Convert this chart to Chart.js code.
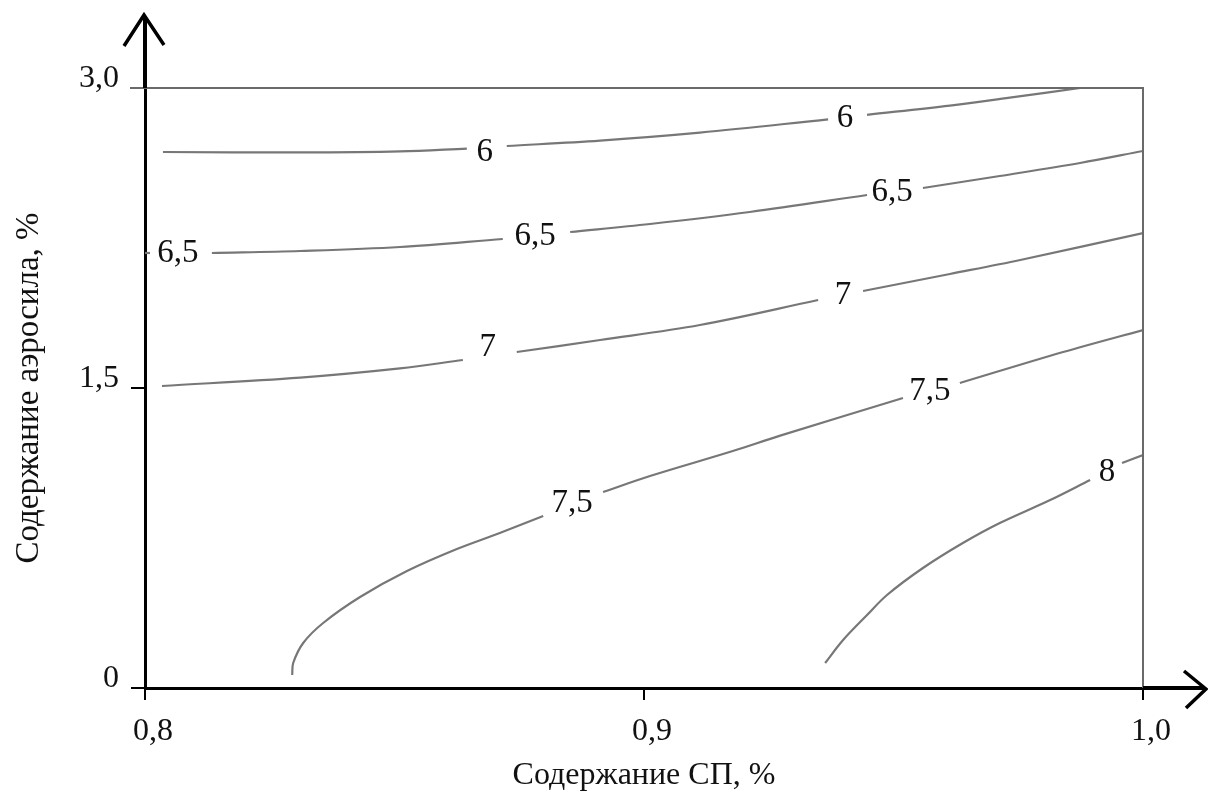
<!DOCTYPE html>
<html>
<head>
<meta charset="utf-8">
<script src="https://cdn.jsdelivr.net/npm/chart.js@4.4.1/dist/chart.umd.min.js"></script>
<style>
  html, body { margin: 0; padding: 0; background: #fff; }
  #wrap { width: 1208px; height: 797px; }
</style>
</head>
<body>
<div id="wrap"><canvas id="c" width="1208" height="797"></canvas></div>
<script>
// ---- data (x = Содержание СП, %; y = Содержание аэросила, %) ----
const xTickValues = [0.8, 0.9, 1.0];
const yTickValues = [0, 1.5, 3.0];
const xTitle = 'Содержание СП, %';
const yTitle = 'Содержание аэросила, %';

// contour level 6 (segments separated by label gaps)
const contour6 = [
  [[0.8036, 2.68], [0.8311, 2.678], [0.8511, 2.683], [0.8645, 2.697]],
  [[0.8725, 2.71], [0.8912, 2.737], [0.9112, 2.777], [0.9369, 2.843]],
  [[0.9447, 2.866], [0.9613, 2.912], [0.9733, 2.952], [0.9874, 3.0]]
];
// contour level 6,5
const contour65 = [
  [[0.8, 2.175], [0.801, 2.175]],
  [[0.8134, 2.175], [0.8311, 2.185], [0.8511, 2.205], [0.8717, 2.245]],
  [[0.8852, 2.28], [0.9012, 2.32], [0.9212, 2.38], [0.9447, 2.465]],
  [[0.9559, 2.50], [0.9713, 2.56], [0.9874, 2.625], [1.0, 2.685]]
];
// contour level 7
const contour7 = [
  [[0.8034, 1.51], [0.8311, 1.552], [0.8511, 1.598], [0.8637, 1.64]],
  [[0.8745, 1.68], [0.8912, 1.74], [0.9112, 1.815], [0.9349, 1.94]],
  [[0.9439, 1.985], [0.9613, 2.07], [0.9754, 2.14], [1.0, 2.275]]
];
// contour level 7,5
const contour75 = [
  [[0.8295, 0.065], [0.8297, 0.125], [0.8317, 0.225], [0.8357, 0.325], [0.8431, 0.455],
   [0.8525, 0.585], [0.8625, 0.695], [0.8711, 0.775], [0.8798, 0.86]],
  [[0.8918, 0.98], [0.9012, 1.06], [0.9178, 1.185], [0.9273, 1.262], [0.9519, 1.45]],
  [[0.9633, 1.525], [0.9840, 1.68], [1.0, 1.79]]
];
// contour level 8
const contour8 = [
  [[0.9363, 0.125], [0.9399, 0.24], [0.9447, 0.365], [0.9487, 0.465], [0.9559, 0.60],
   [0.9639, 0.725], [0.9713, 0.825], [0.9814, 0.94], [0.9894, 1.04]],
  [[0.9958, 1.125], [1.0, 1.165]]
];
// contour labels: text, x, y
const contourLabelText = ['6', '6', '6,5', '6,5', '6,5', '7', '7', '7,5', '7,5', '8'];
const contourLabelX = [0.8681, 0.9403, 0.8066, 0.8782, 0.9497, 0.8687, 0.9399, 0.8856, 0.9573, 0.9928];
const contourLabelY = [2.68, 2.85, 2.175, 2.26, 2.48, 1.705, 1.965, 0.925, 1.485, 1.08];

// ---- build datasets ----
const lineColor = '#777777';
const datasets = [];
[contour6, contour65, contour7, contour75, contour8].forEach(function (c) {
  c.forEach(function (seg) {
    datasets.push({
      data: seg.map(function (p) { return { x: p[0], y: p[1] }; }),
      showLine: true,
      borderColor: lineColor,
      borderWidth: 2.2,
      pointRadius: 0,
      tension: 0.35,
      fill: false
    });
  });
});

const serif = '"Liberation Serif", "Times New Roman", serif';
function fmt(v) { return v === 0 ? '0' : v.toFixed(1).replace('.', ','); }

const decor = {
  id: 'decor',
  afterDatasetsDraw: function (chart) {
    const ctx = chart.ctx;
    const a = chart.chartArea;
    const xs = chart.scales.x, ys = chart.scales.y;
    ctx.save();
    // top and right frame (grey)
    ctx.strokeStyle = '#6a6a6a';
    ctx.lineWidth = 2;
    ctx.beginPath();
    ctx.moveTo(a.left - 15, a.top);
    ctx.lineTo(a.right, a.top);
    ctx.lineTo(a.right, a.bottom);
    ctx.stroke();
    // arrows
    ctx.strokeStyle = '#000';
    ctx.lineWidth = 4;
    ctx.lineCap = 'butt';
    ctx.beginPath();
    ctx.moveTo(a.left, a.top);
    ctx.lineTo(a.left, 16);
    ctx.stroke();
    ctx.lineWidth = 3.5;
    ctx.beginPath();
    ctx.moveTo(a.left - 21, 46);
    ctx.lineTo(a.left - 1, 15);
    ctx.lineTo(a.left + 19, 45);
    ctx.stroke();
    ctx.lineWidth = 4;
    ctx.beginPath();
    ctx.moveTo(a.right, a.bottom);
    ctx.lineTo(1205, a.bottom);
    ctx.stroke();
    ctx.lineWidth = 3.5;
    ctx.beginPath();
    ctx.moveTo(1184, a.bottom - 17);
    ctx.lineTo(1206, a.bottom + 1);
    ctx.lineTo(1186, a.bottom + 20);
    ctx.stroke();
    // contour labels
    ctx.fillStyle = '#111';
    ctx.font = '33px ' + serif;
    ctx.textAlign = 'center';
    ctx.textBaseline = 'middle';
    for (let i = 0; i < contourLabelText.length; i++) {
      ctx.fillText(contourLabelText[i],
        xs.getPixelForValue(contourLabelX[i]),
        ys.getPixelForValue(contourLabelY[i]));
    }
    ctx.restore();
  }
};

new Chart(document.getElementById('c'), {
  type: 'scatter',
  data: { datasets: datasets },
  options: {
    responsive: false,
    animation: false,
    events: [],
    layout: { padding: { top: 88, right: 65, left: 0, bottom: 0 } },
    plugins: { legend: { display: false }, tooltip: { enabled: false } },
    scales: {
      x: {
        type: 'linear',
        min: 0.8, max: 1.0,
        afterFit: function (s) { s.height = 109; },
        afterBuildTicks: function (s) { s.ticks = xTickValues.map(function (v) { return { value: v }; }); },
        border: { display: true, color: '#000', width: 3 },
        grid: { display: true, drawOnChartArea: false, drawTicks: true, tickLength: 12, color: '#000', lineWidth: 2 },
        ticks: {
          callback: function (v) { return fmt(v); },
          color: '#111',
          font: { family: serif, size: 32 },
          padding: 12,
          labelOffset: 8,
          maxRotation: 0
        },
        title: {
          display: true, text: xTitle, color: '#111',
          font: { family: serif, size: 32 },
          padding: { top: 0, bottom: 2 }
        }
      },
      y: {
        type: 'linear',
        min: 0, max: 3.0,
        afterFit: function (s) { s.width = 145; },
        afterBuildTicks: function (s) { s.ticks = yTickValues.map(function (v) { return { value: v }; }); },
        border: { display: true, color: '#000', width: 3 },
        grid: { display: true, drawOnChartArea: false, drawTicks: true, tickLength: 14, color: '#000', lineWidth: 2 },
        ticks: {
          callback: function (v) { return fmt(v); },
          color: '#111',
          font: { family: serif, size: 32 },
          padding: 12,
          labelOffset: -9
        },
        title: {
          display: true, text: yTitle, color: '#111',
          font: { family: serif, size: 33 },
          padding: { top: 10, bottom: 0 }
        }
      }
    }
  },
  plugins: [decor]
});
</script>
</body>
</html>
